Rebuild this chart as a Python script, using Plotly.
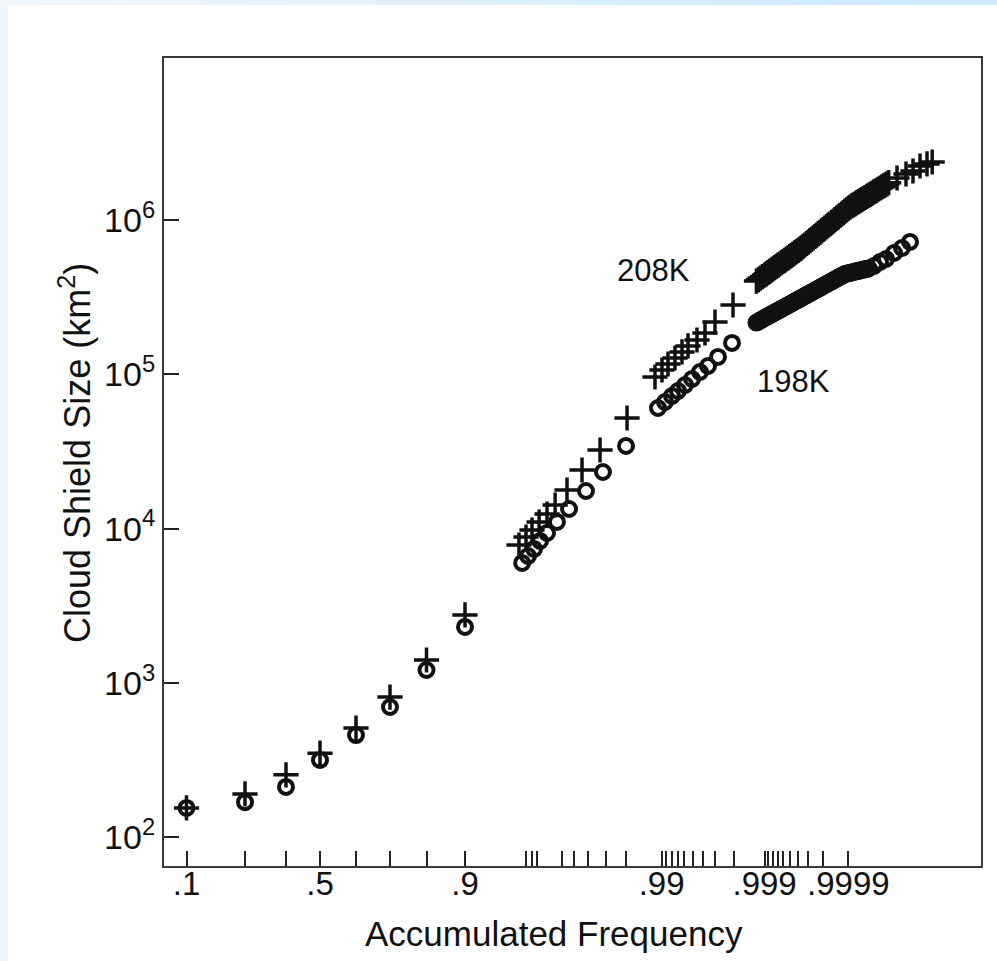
import numpy as np
import plotly.graph_objects as go

# Graduation of the probability paper: accumulated frequency -> position along the axis
AXIS_FREQ = [0.1, 0.3, 0.4, 0.5, 0.6, 0.7, 0.8, 0.9,
             0.91, 0.92, 0.93, 0.94, 0.95, 0.96, 0.97, 0.98, 0.99,
             0.999, 0.9999, 0.99999]
AXIS_UNITS = [22.5, 81, 122, 156, 192, 226, 262.5, 301,
              362, 368, 373, 398, 410, 424, 442, 462, 497.6,
              600.6, 684.4, 768.2]

# Tick marks on the frequency axis and the ones that carry a label
TICK_FREQ = ([0.1, 0.3, 0.4, 0.5, 0.6, 0.7, 0.8, 0.9]
             + [0.91, 0.92, 0.93, 0.94, 0.95, 0.96, 0.97, 0.98, 0.99]
             + [0.991, 0.992, 0.993, 0.994, 0.995, 0.996, 0.997, 0.998, 0.999]
             + [0.9991, 0.9992, 0.9993, 0.9994, 0.9995, 0.9996, 0.9997, 0.9998, 0.9999])
TICK_LABELS = {0.1: ".1", 0.5: ".5", 0.9: ".9", 0.99: ".99", 0.999: ".999", 0.9999: ".9999"}

SIZE_TICKS = [1e2, 1e3, 1e4, 1e5, 1e6]
SIZE_TICK_TEXT = ["10<sup>2</sup>", "10<sup>3</sup>", "10<sup>4</sup>", "10<sup>5</sup>", "10<sup>6</sup>"]

# frequencies sampled along the dense upper tail (shared by both thresholds)
tail_freq = [0.99880, 0.998852, 0.99890, 0.998953, 0.99900, 0.999045, 0.999088, 0.999129,
             0.999168, 0.999206, 0.999241, 0.999276, 0.999308, 0.999339, 0.999369, 0.999397,
             0.999425, 0.999450, 0.999475, 0.999499, 0.999521, 0.999543, 0.999563, 0.999583,
             0.999602, 0.999620, 0.999637, 0.999653, 0.999669, 0.999684, 0.999698, 0.999712,
             0.999725, 0.999737, 0.999749, 0.999760, 0.999771, 0.999781, 0.999791, 0.999800,
             0.999809, 0.999818, 0.999826, 0.999834, 0.999842, 0.999849, 0.999855, 0.999862,
             0.999868, 0.999874, 0.999880, 0.999885, 0.999890, 0.999895, 0.999900,
             0.9999045, 0.9999088, 0.9999129, 0.9999168, 0.9999206, 0.9999241, 0.9999276,
             0.9999308, 0.9999339, 0.9999369, 0.9999397, 0.9999425, 0.9999450, 0.9999475,
             0.9999499, 0.9999521, 0.9999543, 0.9999563, 0.9999583, 0.9999602, 0.9999620,
             0.9999637, 0.9999653, 0.9999669]

# 208K threshold: accumulated frequency and cloud shield size (km^2)
freq_208k = ([0.1, 0.3, 0.4, 0.5, 0.6, 0.7, 0.8, 0.9,
              0.9089, 0.91, 0.92, 0.9309, 0.9342, 0.9374, 0.9444, 0.9560, 0.9670, 0.9804,
              0.98863, 0.990089, 0.991333, 0.992587, 0.993663, 0.994459, 0.995468, 0.996210,
              0.996969, 0.997974]
             + tail_freq
             + [0.9999737, 0.99997946, 0.99998305, 0.99998602, 0.99998847, 0.99999048])
size_208k = ([155, 191, 254, 351, 511, 811, 1409, 2760,
              7838, 8832, 9804, 11048, 12450, 14234, 17810, 24000, 32340, 52120,
              96110, 106700, 116700, 127600, 139600, 152700, 166900, 185300,
              218400, 281400]
             + [402000, 411100, 420400, 429900, 439600, 448200, 456300, 464500,
                473600, 482200, 490900, 500500, 509500, 518800, 529000, 538500,
                548300, 558900, 569100, 579400, 590700, 601300, 612300, 624200,
                635500, 647800, 660500, 674500, 688600, 704300, 719200, 734400,
                749800, 765900, 781800, 798500, 815200, 832500, 849900, 868000,
                886200, 906400, 925300, 945000, 965000, 985300, 1006100, 1027400,
                1049100, 1071300, 1093900, 1117000, 1140600, 1164600, 1191000,
                1214400, 1234400, 1254900, 1273700, 1294800, 1314300, 1336000,
                1356100, 1378500, 1399200, 1422300, 1443800, 1467600, 1489600,
                1514300, 1539300, 1562500, 1588300, 1612200, 1638900, 1663500,
                1691100, 1716300, 1744900]
             + [1872000, 1987000, 2078000, 2238000, 2307000, 2376000])

# 198K threshold
freq_198k = ([0.1, 0.3, 0.4, 0.5, 0.6, 0.7, 0.8, 0.9,
              0.9094, 0.9135, 0.9242, 0.9313, 0.9342, 0.9381, 0.9461, 0.9587, 0.9685, 0.98,
              0.98927, 0.990731, 0.992074, 0.993070, 0.994074, 0.994933, 0.995762, 0.996457,
              0.997166, 0.997928]
             + tail_freq[:67]
             + [0.9999505, 0.99995804, 0.99996442, 0.99997144, 0.99997707, 0.9999816])
size_198k = ([155, 169, 212, 317, 460, 699, 1214, 2307,
              5993, 6652, 7385, 8321, 9377, 11048, 13412, 17540, 23290, 34340,
              60520, 66190, 72390, 78000, 85300, 93290, 103560, 113240,
              129560, 159650]
             + [216400, 220000, 224000, 227700, 231800, 234600, 238100, 241300,
                244900, 247900, 251600, 254600, 258400, 261900, 265900, 269000,
                273100, 276800, 280500, 284300, 288200, 292100, 296500, 300500,
                304500, 308600, 312800, 317100, 321800, 326200, 330600, 335000,
                340100, 344700, 349300, 354100, 358800, 363700, 369200, 374200,
                379300, 384300, 389600, 395400, 400800, 406200, 411700, 417200,
                422900, 429200, 435000, 440900, 446900, 449600, 452200,
                455000, 457700, 460400, 463200, 465900, 468700, 471500,
                474400, 477200, 480100, 482900, 485800]
             + [503500, 534500, 558900, 611300, 658500, 720400])


def to_axis(freq):
    """Map accumulated frequency onto the probability-paper axis."""
    nines = -np.log10(1.0 - np.asarray(freq, dtype=float))
    anchor_nines = -np.log10(1.0 - np.asarray(AXIS_FREQ))
    return np.interp(nines, anchor_nines, AXIS_UNITS)


FONT = "Liberation Sans, Arial, Helvetica, sans-serif"
INK = "#111111"

fig = go.Figure()
fig.add_trace(go.Scatter(
    x=to_axis(freq_198k), y=size_198k, mode="markers", name="198K",
    marker=dict(symbol="circle-open", size=14, color=INK, line=dict(width=4, color=INK)),
    showlegend=False))
fig.add_trace(go.Scatter(
    x=to_axis(freq_208k), y=size_208k, mode="markers", name="208K",
    marker=dict(symbol="cross-thin", size=18, color=INK, line=dict(width=3.5, color=INK)),
    showlegend=False))

# page geometry (pixels)
W, H, L, T, PW, PH = 997, 961, 164, 58, 817, 808


def px_x(v):
    return (v - L) / PW


def px_y(v):
    return (T + PH - v) / PH


def label(x, y, text, size, angle=0):
    fig.add_annotation(xref="paper", yref="paper", x=px_x(x), y=px_y(y), text=text,
                       xanchor="center", yanchor="middle", textangle=angle, showarrow=False,
                       font=dict(family=FONT, size=size, color=INK))


label(653, 270, "208K", 31)
label(793, 381, "198K", 31)
label(554, 933, "Accumulated Frequency", 35)
label(75, 453, "Cloud Shield Size (km<sup>2</sup>)", 36, angle=-90)

# light blue page frame along the top and left edges
shapes = [dict(type="rect", xref="paper", yref="paper", x0=px_x(0), x1=px_x(8),
               y0=px_y(H), y1=px_y(0), fillcolor="#eef6fd", line=dict(width=0), layer="below")]
n = 24
c0 = np.array([0xEF, 0xF7, 0xFE])
c1 = np.array([0xCD, 0xE9, 0xFB])
for i in range(n):
    c = (c0 + (c1 - c0) * i / (n - 1)).astype(int)
    shapes.append(dict(type="rect", xref="paper", yref="paper",
                       x0=px_x(W * i / n), x1=px_x(W * (i + 1) / n + 1),
                       y0=px_y(5), y1=px_y(0),
                       fillcolor="rgb(%d,%d,%d)" % tuple(c), line=dict(width=0), layer="below"))

fig.update_layout(
    width=W, height=H,
    margin=dict(l=L, r=W - L - PW, t=T, b=H - T - PH),
    paper_bgcolor="white", plot_bgcolor="white",
    font=dict(family=FONT, color=INK),
    shapes=shapes,
)

fig.update_xaxes(
    range=[0, PW], showgrid=False, zeroline=False,
    showline=True, linecolor="#3a3a3a", linewidth=2, mirror=True,
    ticks="inside", ticklen=15, tickwidth=1.5, tickcolor="#222222",
    tickvals=to_axis(TICK_FREQ),
    ticktext=[TICK_LABELS.get(f, "") for f in TICK_FREQ],
    tickfont=dict(family=FONT, size=33, color=INK),
    ticklabelstandoff=-13,
)
fig.update_yaxes(
    type="log", range=[1.8142, 7.0497], showgrid=False, zeroline=False,
    showline=True, linecolor="#3a3a3a", linewidth=2, mirror=True,
    ticks="inside", ticklen=15, tickwidth=1.5, tickcolor="#222222",
    tickvals=SIZE_TICKS, ticktext=SIZE_TICK_TEXT,
    tickfont=dict(family=FONT, size=34, color=INK),
)

fig.write_html("out.html")
